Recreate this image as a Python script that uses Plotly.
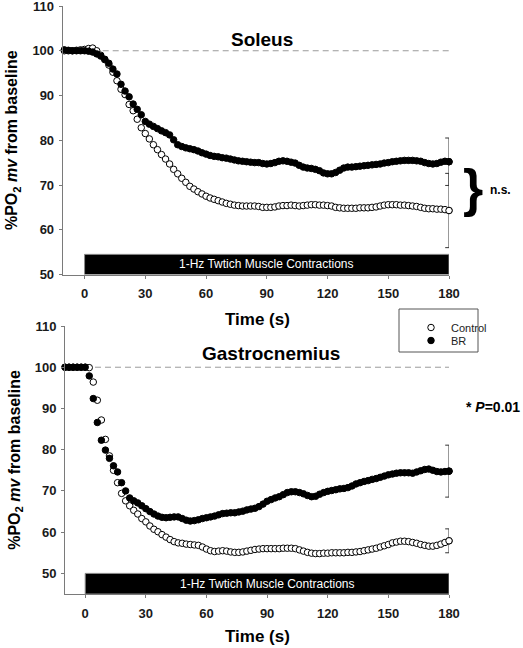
import plotly.graph_objects as go

# ---------------- data ----------------
TIME = list(range(-10, 181, 2))  # seconds

SOLEUS_CONTROL = [
    100.0, 100.0, 100.0, 100.1, 100.2,
    100.3, 100.5, 100.6, 100.0, 99.0, 98.0, 96.8, 95.2, 93.3, 91.4,
    90.2, 88.0, 86.6, 84.7, 82.8, 81.5, 80.3, 79.0, 77.9, 76.8,
    75.8, 74.7, 73.5, 72.5, 71.5, 70.6, 69.7, 69.1, 68.5, 68.0,
    67.5, 67.1, 66.8, 66.5, 66.2, 65.9, 65.7, 65.5, 65.4, 65.3,
    65.3, 65.3, 65.3, 65.2, 65.0, 65.0, 65.0, 65.1, 65.3, 65.4,
    65.4, 65.5, 65.4, 65.3, 65.4, 65.5, 65.6, 65.6, 65.5, 65.5,
    65.4, 65.3, 65.0, 64.9, 64.8, 64.8, 64.8, 64.8, 64.9, 64.9,
    64.9, 65.0, 65.1, 65.3, 65.5, 65.6, 65.6, 65.6, 65.5, 65.5,
    65.4, 65.3, 65.2, 65.0, 64.8, 64.7, 64.7, 64.6, 64.6, 64.5,
    64.3,
]
SOLEUS_BR = [
    100.2, 100.1, 100.0, 100.0, 100.0,
    100.0, 99.9, 99.7, 99.3, 98.8, 98.1, 97.2, 95.9, 94.8, 92.5,
    91.0, 89.7, 88.1, 86.9, 85.7, 84.2, 83.6, 83.1, 82.6, 82.1,
    81.7, 81.2, 80.1, 79.0, 78.6, 78.3, 78.1, 77.9, 77.6, 77.2,
    76.9, 76.6, 76.4, 76.3, 76.1, 76.0, 75.8, 75.6, 75.4, 75.3,
    75.2, 75.1, 75.0, 75.0, 74.8, 74.7, 74.8, 75.0, 75.3, 75.4,
    75.3, 75.1, 74.9, 74.4, 74.0, 73.8, 73.7, 73.5, 73.2, 72.7,
    72.5, 72.5, 72.8, 73.3, 73.8, 74.0, 74.0, 74.1, 74.2, 74.3,
    74.4, 74.5, 74.6, 74.7, 74.9, 75.0, 75.2, 75.3, 75.4, 75.5,
    75.5, 75.5, 75.4, 75.3, 75.0, 74.8, 74.7, 74.8, 75.1, 75.3,
    75.2,
]
GASTRO_CONTROL = [
    100.0, 100.0, 100.0, 100.0, 100.0,
    100.0, 99.9, 96.4, 92.0, 87.2, 82.5, 78.5, 75.0, 72.0, 69.4,
    67.6, 66.4, 65.3, 64.4, 63.3, 62.5, 61.5, 60.7, 60.1, 59.4,
    58.8, 58.2, 57.7, 57.4, 57.3, 57.1, 57.0, 56.9, 56.8, 56.4,
    55.9, 55.5, 55.3, 55.4, 55.5, 55.4, 55.2, 55.1, 55.1, 55.2,
    55.4, 55.6, 55.8, 55.9, 56.0, 56.0, 56.0, 56.0, 56.0, 56.1,
    56.1, 56.1, 56.0, 55.7, 55.4, 55.1, 54.9, 54.8, 54.8, 54.9,
    54.9, 55.0, 55.0, 55.0, 55.0, 55.1, 55.1, 55.2, 55.3, 55.5,
    55.7, 55.9, 56.1, 56.4, 56.7, 57.0, 57.4, 57.6, 57.8, 57.8,
    57.7, 57.5, 57.3, 57.0, 56.8, 56.6, 56.6, 56.8, 57.1, 57.5,
    57.9,
]
GASTRO_BR = [
    100.0, 100.0, 100.0, 100.0, 100.0,
    100.0, 97.9, 92.4, 86.6, 82.3, 79.9, 77.9, 76.1, 74.6, 72.0,
    70.0, 68.3, 67.6, 67.1, 66.4, 65.7, 65.0, 64.4, 63.9, 63.6,
    63.5, 63.6, 63.7, 63.7, 63.3, 62.9, 62.7, 62.8, 63.0, 63.3,
    63.5, 63.7, 63.9, 64.2, 64.5, 64.6, 64.7, 64.7, 64.9, 65.1,
    65.4, 65.6, 65.8, 66.2, 66.8, 67.5, 67.9, 68.3, 68.6, 69.1,
    69.6, 69.8, 69.8, 69.6, 69.3, 68.9, 68.6, 68.7, 69.2, 69.6,
    69.9, 70.1, 70.3, 70.5, 70.6, 70.8, 71.2, 71.7, 72.0, 72.3,
    72.5, 72.8, 73.0, 73.3, 73.6, 73.9, 74.1, 74.3, 74.4, 74.4,
    74.4, 74.3, 74.6, 74.9, 75.2, 75.3, 75.0, 74.7, 74.6, 74.7,
    74.8,
]

# error (SE) at the final time point
SOLEUS_ERR = {"Control": 8.3, "BR": 5.3}
GASTRO_ERR = {"Control": 2.9, "BR": 6.3}

X_TICKS = [0, 30, 60, 90, 120, 150, 180]
Y_TICKS = [50, 60, 70, 80, 90, 100, 110]
BASELINE = 100
CONTRACTION_START, CONTRACTION_END = 0, 180
CONTRACTION_LABEL = "1-Hz Twtich Muscle Contractions"

# ---------------- styling ----------------
W, H = 523, 648
FONT = "Liberation Sans, Arial, Helvetica, sans-serif"
AXIS_COLOR = "#7a7a7a"
MS = 6.5

open_marker = dict(symbol="circle", size=MS, color="white", line=dict(color="black", width=1))
fill_marker = dict(symbol="circle", size=MS, color="black", line=dict(color="black", width=1))
err_style = dict(type="data", symmetric=True, color="#333333", thickness=1, width=3.8)


def px_x(p):
    return p / W


def px_y(p):
    return 1 - p / H


fig = go.Figure()

panels = [
    ("x", "y", SOLEUS_CONTROL, SOLEUS_BR, SOLEUS_ERR, True),
    ("x2", "y2", GASTRO_CONTROL, GASTRO_BR, GASTRO_ERR, False),
]
for xa, ya, con, br, err, show in panels:
    # error bars at last point
    fig.add_trace(go.Scatter(x=[TIME[-1]], y=[br[-1]], mode="markers", marker=fill_marker,
                             error_y=dict(array=[err["BR"]], **err_style),
                             xaxis=xa, yaxis=ya, showlegend=False, cliponaxis=False, hoverinfo="skip"))
    fig.add_trace(go.Scatter(x=[TIME[-1]], y=[con[-1]], mode="markers", marker=open_marker,
                             error_y=dict(array=[err["Control"]], **err_style),
                             xaxis=xa, yaxis=ya, showlegend=False, cliponaxis=False, hoverinfo="skip"))
    fig.add_trace(go.Scatter(x=TIME, y=con, mode="markers", marker=open_marker, name="Control",
                             xaxis=xa, yaxis=ya, showlegend=show, legend="legend", cliponaxis=False))
    fig.add_trace(go.Scatter(x=TIME, y=br, mode="markers", marker=fill_marker, name="BR",
                             xaxis=xa, yaxis=ya, showlegend=show, legend="legend2", cliponaxis=False))

axis_common = dict(
    showline=True, linecolor=AXIS_COLOR, linewidth=1, automargin=False,
    ticks="outside", ticklen=3, tickcolor=AXIS_COLOR, tickwidth=1,
    showgrid=False, zeroline=False, ticklabeloverflow="allow",
    tickfont=dict(family=FONT, size=13, color="#1a1a1a", weight="bold"),
)
ytitle = "<b>%PO<sub>2</sub> <i>mv</i> from baseline</b>"
ytitle_cfg = dict(text=ytitle, standoff=10, font=dict(family=FONT, size=16, color="black"))

TOP_L, BOT_L, RIGHT = 62.7, 65.0, 449.0
legend_font = dict(family=FONT, size=11, color="#222222")
fig.update_layout(
    width=W, height=H,
    margin=dict(l=0, r=0, t=0, b=0, autoexpand=False),
    paper_bgcolor="white", plot_bgcolor="white",
    font=dict(family=FONT, color="black"),
    xaxis=dict(domain=[px_x(TOP_L), px_x(RIGHT)], range=[-10.8, 180], anchor="y",
               tickvals=X_TICKS, ticklabelstandoff=4, **axis_common),
    yaxis=dict(domain=[px_y(274.5), px_y(6)], range=[50, 110], anchor="x",
               tickvals=Y_TICKS, ticklabelstandoff=2, title=ytitle_cfg, **axis_common),
    xaxis2=dict(domain=[px_x(BOT_L), px_x(RIGHT)], range=[-10, 180], anchor="y2",
                tickvals=X_TICKS, ticklabelstandoff=4, **axis_common),
    yaxis2=dict(domain=[px_y(594), px_y(326)], range=[45, 110], anchor="x2",
                tickvals=Y_TICKS, ticklabelstandoff=2, title=ytitle_cfg, **axis_common),
    legend=dict(x=px_x(411), y=px_y(313), xanchor="left", yanchor="top",
                bgcolor="rgba(0,0,0,0)", borderwidth=0, itemwidth=30, font=legend_font),
    legend2=dict(x=px_x(411), y=px_y(326), xanchor="left", yanchor="top",
                 bgcolor="rgba(0,0,0,0)", borderwidth=0, itemwidth=30, font=legend_font),
    showlegend=True,
)

shapes = []
for xa, ya, y0, y1, x_left in [("x", "y", 50, 54.5, -10.8), ("x2", "y2", 45, 50, -10)]:
    shapes.append(dict(type="line", xref=xa, yref=ya, x0=x_left, x1=CONTRACTION_END,
                       y0=BASELINE, y1=BASELINE, layer="below",
                       line=dict(color="#9a9a9a", width=1, dash="6px,4px")))
    shapes.append(dict(type="rect", xref=xa, yref=ya, x0=CONTRACTION_START, x1=CONTRACTION_END,
                       y0=y0, y1=y1, fillcolor="black", line=dict(color="#8a8a8a", width=1)))
# legend box
shapes.append(dict(type="rect", xref="paper", yref="paper",
                   x0=px_x(399), x1=px_x(478), y0=px_y(352), y1=px_y(309),
                   line=dict(color="#555555", width=1), fillcolor="rgba(0,0,0,0)"))
fig.update_layout(shapes=shapes)


def label(x, y, text, size, xanchor="center", **kw):
    return dict(xref="paper", yref="paper", x=px_x(x), y=px_y(y), text=text, showarrow=False,
                xanchor=xanchor, yanchor="middle",
                font=dict(family=FONT, size=size, color="black"), **kw)


ann = []
# bar labels
ann.append(dict(xref="x", yref="y", x=90, y=52.25, text=CONTRACTION_LABEL, showarrow=False,
                xanchor="center", yanchor="middle",
                font=dict(family=FONT, size=12, color="white")))
ann.append(dict(xref="x2", yref="y2", x=90, y=47.5, text=CONTRACTION_LABEL, showarrow=False,
                xanchor="center", yanchor="middle",
                font=dict(family=FONT, size=12, color="white")))
# panel titles
ann.append(label(262, 39, "<b>Soleus</b>", 19))
ann.append(label(271, 353, "<b>Gastrocnemius</b>", 19))
# x titles
ann.append(label(257, 319, "<b>Time (s)</b>", 17))
ann.append(label(257, 636, "<b>Time (s)</b>", 17))
# significance marks
ann.append(label(473, 188, "<b>}</b>", 52))
ann.append(label(488, 190, "<b>n.s.</b>", 12, xanchor="left"))
ann.append(label(522, 407, "<b>* <i>P</i>=0.01</b>", 14, xanchor="right"))
fig.update_layout(annotations=ann)

fig.write_html("out.html", config={"displayModeBar": False},
               post_script="document.body.style.margin='0px';document.body.style.overflow='hidden';")
